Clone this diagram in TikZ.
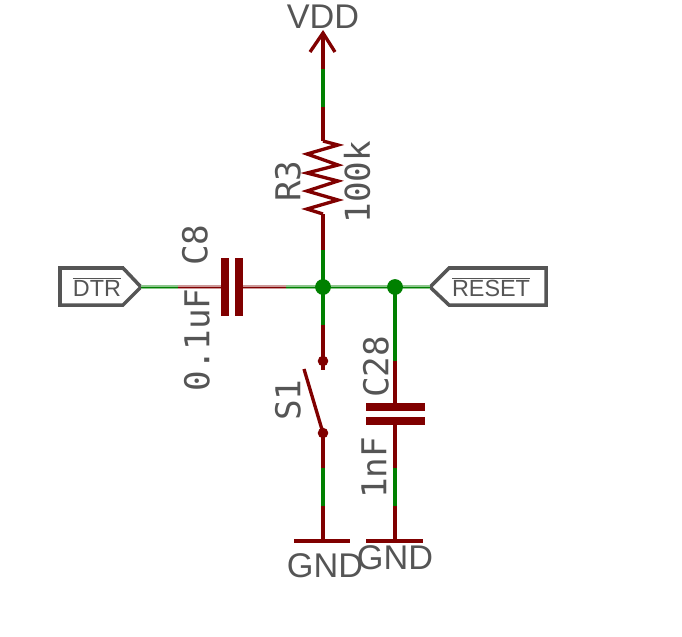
\documentclass[tikz,border=0pt]{standalone}
\usepackage{fontspec}
\setmainfont{Liberation Sans}
\newfontfamily\valuefont{DejaVu Sans Mono}
\definecolor{wirered}{RGB}{128,0,0}
\definecolor{wiregreen}{RGB}{0,128,0}
\definecolor{textgray}{RGB}{85,85,85}
\tikzset{
  redwire/.style={draw=wirered,line width=1.9pt},
  greenwire/.style={draw=wiregreen,line width=1.9pt},
  redthin/.style={draw=wirered!40,line width=2.2pt,postaction={draw=wirered,line width=.5pt}},
  greenthin/.style={draw=wiregreen!45,line width=2.2pt,postaction={draw=wiregreen,line width=.5pt}},
  plate/.style={draw=wirered,line width=5pt},
  port/.style={draw=textgray,line width=2pt,line join=miter},
  dot/.style={circle,fill=wiregreen,inner sep=0pt,minimum size=9pt},
  pin/.style={circle,fill=wirered,inner sep=0pt,minimum size=6pt},
  powername/.style={text=textgray,font=\fontsize{19.5}{20}\selectfont,inner sep=0pt},
  portname/.style={text=textgray,font=\fontsize{13.3}{14}\selectfont,inner sep=0pt},
  partname/.style={text=textgray,font=\fontsize{19.5}{20}\selectfont\valuefont,rotate=90,inner sep=0pt}
}
\begin{document}
\begin{tikzpicture}[x=0.02cm,y=-0.02cm]
\useasboundingbox (0,0) rectangle (682,636);

% supply and R3
\coordinate (Vtip) at (323,33);
\coordinate (Vl) at (310,52);
\coordinate (Vr) at (335,52);
\coordinate (Va) at (323,69);
\coordinate (Vb) at (323,107);
\coordinate (Rt) at (323,141);
\coordinate (Rb) at (323,214);
\coordinate (Rc) at (323,250);
\coordinate (Jc) at (323,287);
\draw[redwire] (Vl)--(Vtip)--(Vr);
\draw[redwire] (Vtip)--(Va);
\draw[greenwire] (Va)--(Vb);
\draw[redwire] (Vb)--(Rt);
\draw[redwire,line join=miter] (Rt)--(338,145)--(307,154)--(338,165)--(307,173)--(338,181)--(307,191)--(338,200)--(307,209)--(Rb);
\draw[redwire] (Rb)--(Rc);
\draw[greenwire] (Rc)--(Jc);

% DTR and C8
\coordinate (Dtip) at (141,287);
\coordinate (Da) at (178,287);
\coordinate (C8l) at (225,287);
\coordinate (C8r) at (239,287);
\coordinate (Db) at (286,287);
\coordinate (Jr) at (395,287);
\draw[port] (60,268)--(123,268)--(Dtip)--(123,305)--(60,305)--cycle;
\node[portname] (DTR) at (97,287) {$\overline{\mbox{DTR}}$};
\draw[greenthin] (Dtip)--(Da);
\draw[redthin] (Da)--(C8l);
\draw[redthin] (C8r)--(Db);
\draw[greenthin] (Db)--(Jc);
\draw[plate] (225,258)--(C8l)--(225,316);
\draw[plate] (239,258)--(C8r)--(239,316);

% RESET
\coordinate (Rtip) at (430,287);
\draw[port] (Rtip)--(449,268)--(546,268)--(546,305)--(449,305)--cycle;
\node[portname] (RESET) at (491,287) {$\overline{\mbox{RESET}}$};
\draw[greenthin] (Jc)--(Jr);
\draw[greenthin] (Jr)--(Rtip);

% S1
\coordinate (Sa) at (323,325);
\coordinate (Stop) at (323,361);
\coordinate (Stail) at (323,370);
\coordinate (Sblade) at (304,369);
\coordinate (Sbot) at (323,433);
\coordinate (Sc) at (323,468);
\coordinate (Sd) at (323,506);
\coordinate (G1) at (323,541);
\draw[greenwire] (Jc)--(Sa);
\draw[redwire] (Sa)--(Stop)--(Stail);
\draw[redwire] (Sblade)--(Sbot);
\draw[redwire] (Sbot)--(Sc);
\draw[greenwire] (Sc)--(Sd);
\draw[redwire] (Sd)--(G1);
\draw[redwire] (294,541)--(350,541);

% C28
\coordinate (Ca) at (395,361);
\coordinate (Ct) at (395,407);
\coordinate (Cb) at (395,421);
\coordinate (Cc) at (395,468);
\coordinate (Cd) at (395,506);
\coordinate (G2) at (395,541);
\draw[greenwire] (Jr)--(Ca);
\draw[redwire] (Ca)--(Ct);
\draw[plate] (366,407)--(Ct)--(425,407);
\draw[plate] (366,421)--(Cb)--(425,421);
\draw[redwire] (Cb)--(Cc);
\draw[greenwire] (Cc)--(Cd);
\draw[redwire] (Cd)--(G2);
\draw[redwire] (366,541)--(423,541);

% junctions and pins
\node[dot] (J1) at (Jc) {};
\node[dot] (J2) at (Jr) {};
\node[pin] (S1a) at (Stop) {};
\node[pin] (S1b) at (Sbot) {};

% labels
\node[powername] (VDD) at (323,17) {VDD};
\node[powername] (GND1) at (325,566) {GND};
\node[powername] (GND2) at (395,558) {GND};
\node[partname] (C8) at (195,245) {C8};
\node[partname] (C8v) at (197,340) {0.1uF};
\node[partname] (R3) at (288,181) {R3};
\node[partname] (R3v) at (357,182) {100k};
\node[partname] (S1) at (288,400) {S1};
\node[partname] (C28) at (376,367) {C28};
\node[partname] (C28v) at (374,468) {1nF};
\end{tikzpicture}
\end{document}
